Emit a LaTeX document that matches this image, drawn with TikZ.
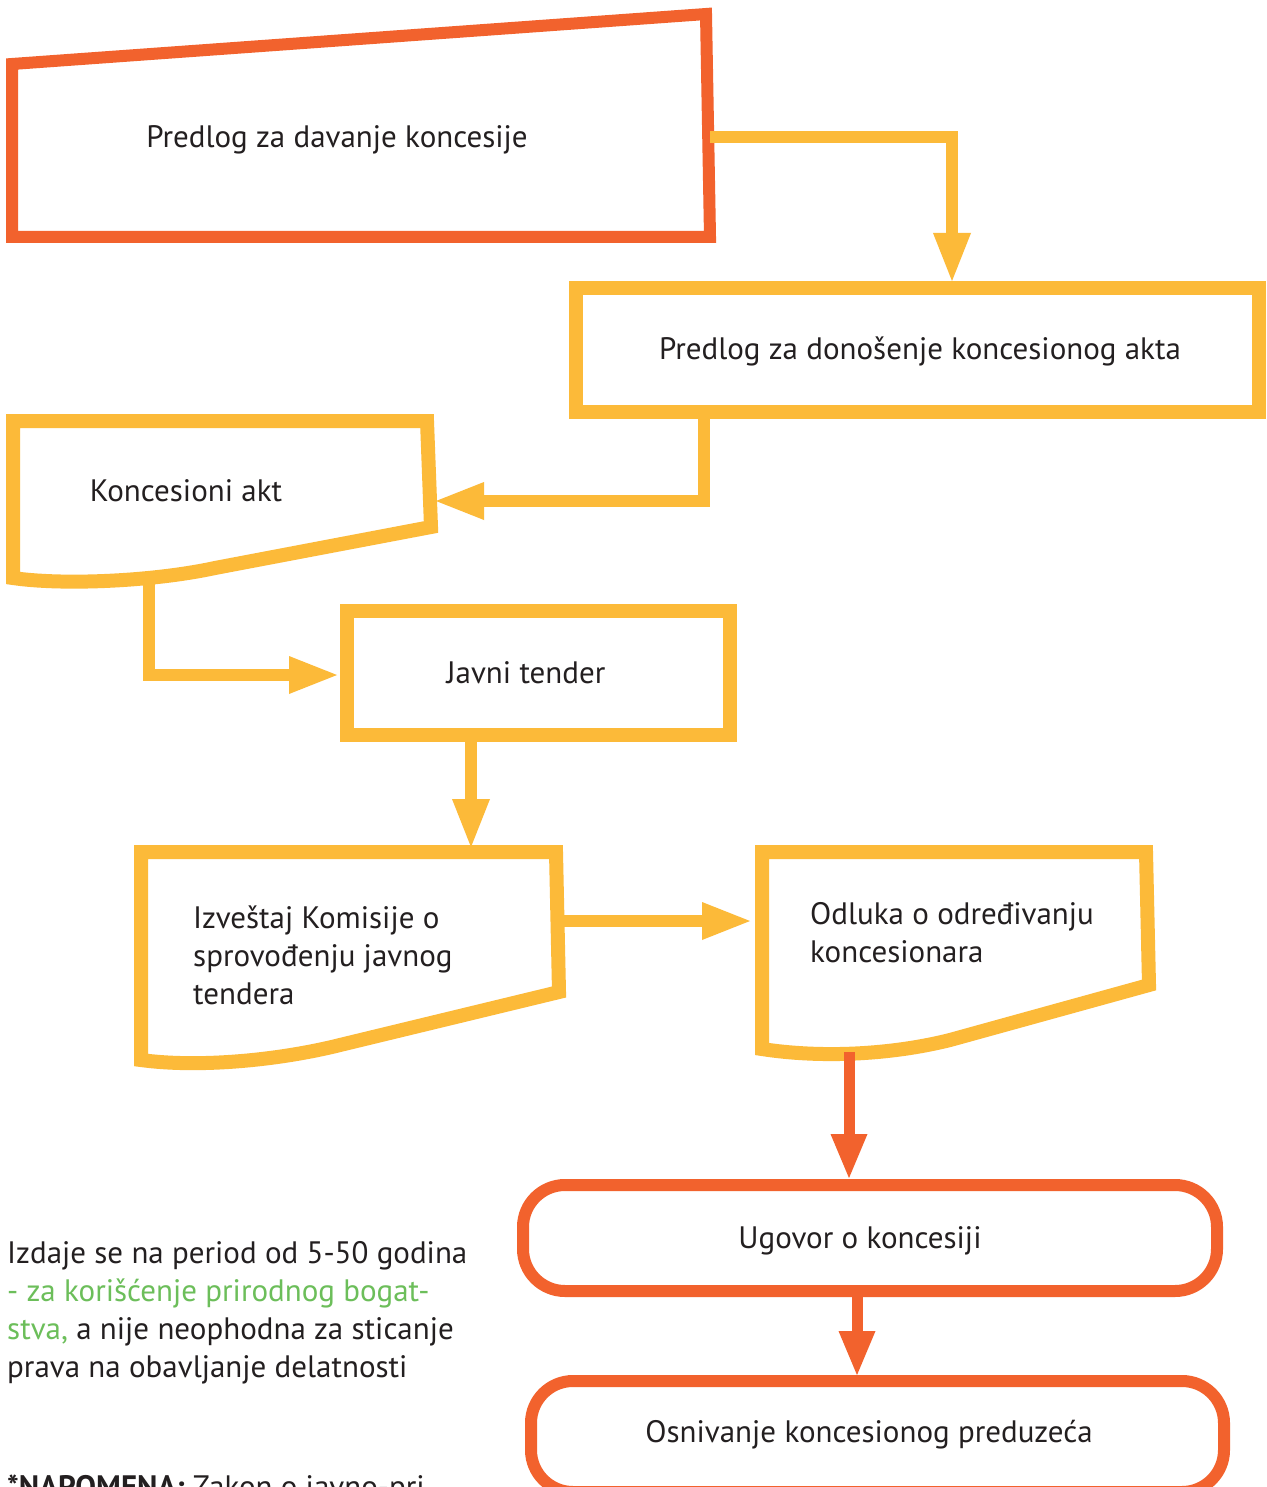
\documentclass[tikz,border=0pt]{standalone}
\usepackage{fontspec}
\setmainfont{PT Sans}
\usetikzlibrary{arrows.meta}
\definecolor{orng}{RGB}{242,98,45}
\definecolor{ylw}{RGB}{252,186,57}
\definecolor{grn}{RGB}{108,190,90}
\definecolor{txt}{RGB}{35,31,32}
\begin{document}
\begin{tikzpicture}[x=1pt,y=-1pt,
  lbl/.style={font=\fontsize{31}{38}\selectfont, text=txt, inner sep=0pt},
  obox/.style={draw=orng, line width=12pt, line join=miter},
  ybox/.style={draw=ylw, line width=14pt, line join=miter},
  yarr/.style={draw=ylw, line width=12pt, line join=miter, -{Triangle[length=48pt,width=38pt,line width=0pt]}},
  oarr/.style={draw=orng, line width=11pt, -{Triangle[length=44pt,width=37pt,line width=0pt]}},
]
\fill[white] (0,0) rectangle (1266,1487);
\useasboundingbox (0,0) rectangle (1266,1487);

% Box 1
\draw[obox] (12,64) -- (706,14) -- (710,237) -- (12,237) -- cycle;
\node[lbl, anchor=base] (t1) at (337,148) {Predlog za davanje koncesije};
\coordinate (b1r) at (710,137.5);

% Box 2
\draw[ybox] (576,288) rectangle (1259,412);
\node[lbl, anchor=base] (t2) at (920,359) {Predlog za donošenje koncesionog akta};
\coordinate (b2t) at (952,281);
\coordinate (b2b) at (704,419);

% Box 3
\draw[ybox] (13,421) -- (427,421) -- (431,527) -- (215,568)
  .. controls (150,582) and (60,585) .. (13,578) -- cycle;
\node[lbl, anchor=base] (t3) at (186,501) {Koncesioni akt};
\coordinate (b3r) at (436,501);
\coordinate (b3b) at (149,581);

% Box 4
\draw[ybox] (347,611) rectangle (730,735);
\node[lbl, anchor=base] (t4) at (526,683) {Javni tender};
\coordinate (b4l) at (337,675);
\coordinate (b4b) at (471,742);

% Box 5
\draw[ybox] (141,852) -- (556,852) -- (559,992) -- (340,1045)
  .. controls (280,1060) and (200,1068) .. (141,1060) -- cycle;
\node[lbl, anchor=base west] (t5a) at (193,928) {Izveštaj Komisije o};
\node[lbl, anchor=base west] (t5b) at (193,966) {sprovođenju javnog};
\node[lbl, anchor=base west] (t5c) at (193,1004) {tendera};
\coordinate (b5t) at (471,847);
\coordinate (b5r) at (562,921);

% Box 6
\draw[ybox] (762,852) -- (1146,852) -- (1149,985) -- (950,1040)
  .. controls (890,1055) and (820,1058) .. (762,1049) -- cycle;
\node[lbl, anchor=base west] (t6a) at (810,924) {Odluka o određivanju};
\node[lbl, anchor=base west] (t6b) at (810,962) {koncesionara};
\coordinate (b6l) at (750,921);
\coordinate (b6b) at (849,1052);

% Box 7
\draw[obox, rounded corners=42pt] (523,1185) rectangle (1217,1291);
\node[lbl, anchor=base] (t7) at (860,1248) {Ugovor o koncesiji};
\coordinate (b7t) at (849,1178);
\coordinate (b7b) at (857,1297);

% Box 8
\draw[obox, rounded corners=42pt] (531,1381) rectangle (1224,1492);
\node[lbl, anchor=base] (t8) at (869,1442) {Osnivanje koncesionog preduzeća};
\coordinate (b8t) at (857,1375);

% Connectors
\draw[yarr] (b1r) -| (b2t);
\draw[yarr] (b2b) |- (b3r);
\draw[yarr] (b3b) |- (b4l);
\draw[yarr] (b4b) -- (b5t);
\draw[yarr] (b5r) -- (b6l);
\draw[oarr] (b6b) -- (b7t);
\draw[oarr] (b7b) -- (b8t);

% Note text
\node[lbl, anchor=base west] (n1) at (7,1263) {Izdaje se na period od 5-50 godina};
\node[lbl, anchor=base west, text=grn] (n2) at (7,1301) {- za korišćenje prirodnog bogat-};
\node[lbl, anchor=base west] (n3) at (7,1339) {\textcolor{grn}{stva,} a nije neophodna za sticanje};
\node[lbl, anchor=base west] (n4) at (7,1377) {prava na obavljanje delatnosti};
\node[lbl, anchor=base west] (n5) at (7,1497) {\textbf{*NAPOMENA:} Zakon o javno-pri};
\end{tikzpicture}
\end{document}
